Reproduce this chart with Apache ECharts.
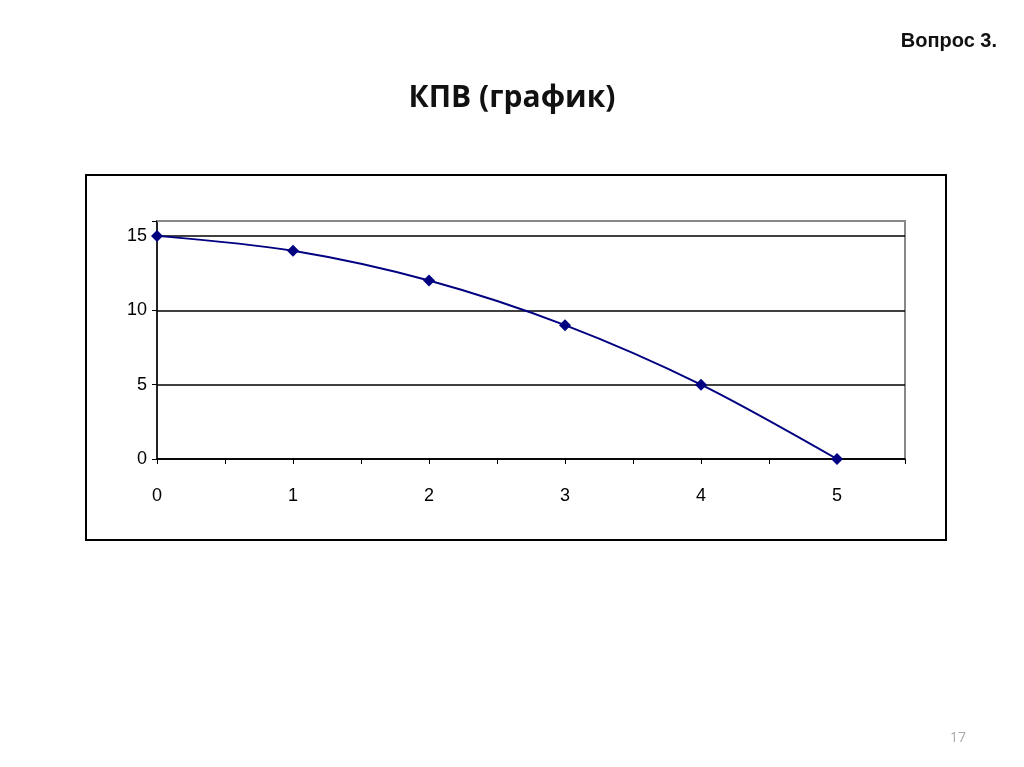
<!DOCTYPE html>
<html lang="en">
<head>
<meta charset="UTF-8">
<script src="https://cdn.jsdelivr.net/npm/echarts@6/dist/echarts.min.js"></script>
<style>
  html, body { margin: 0; padding: 0; background: #fff; }
  #main { width: 1024px; height: 767px; }
</style>
</head>
<body>
<div id="main"></div>
<script>
var xValues = [0, 1, 2, 3, 4, 5];
var yValues = [15, 14, 12, 9, 5, 0];
var titleText = 'КПВ (график)';
var cornerText = 'Вопрос 3.';
var pageNumber = '17';

var chart = echarts.init(document.getElementById('main'));
var option = {
    animation: false,
    title: [
        { text: titleText, left: 'center', top: 78, textStyle: { fontFamily: 'Open Sans', fontSize: 30, fontWeight: 'bold', color: '#111' } },
        { text: cornerText, right: 22, top: 26, textStyle: { fontFamily: 'Liberation Sans', fontSize: 20, fontWeight: 'bold', color: '#111' } },
        { text: pageNumber, left: 945, top: 726, textStyle: { fontFamily: 'Open Sans', fontSize: 14, fontWeight: 'normal', color: '#aaa' } }
    ],
    graphic: [
        { type: 'rect', shape: { x: 86, y: 175, width: 860, height: 365 }, style: { fill: 'none', stroke: '#000', lineWidth: 2 }, z: -1 },
        { type: 'line', shape: { x1: 157, y1: 221, x2: 905, y2: 221 }, style: { stroke: '#888', lineWidth: 2 }, z: 10 }
    ],
    grid: { left: 157, top: 221, width: 748, height: 238, show: true, borderColor: '#888', borderWidth: 2, backgroundColor: '#fff' },
    xAxis: {
        type: 'value', min: 0, max: 5.5, interval: 0.5,
        axisLine: { lineStyle: { color: '#000', width: 1.5 } },
        axisTick: { show: true, length: 5, lineStyle: { color: '#000' } },
        axisLabel: { margin: 28, fontFamily: 'Arial', fontSize: 18, color: '#000',
            formatter: function (v) { return Number.isInteger(v) ? String(v) : ''; } },
        splitLine: { show: false }
    },
    yAxis: {
        type: 'value', min: 0, max: 16, interval: 5,
        axisLine: { show: true, lineStyle: { color: '#000', width: 1.5 } },
        axisTick: { show: true, length: 5, lineStyle: { color: '#000' } },
        axisLabel: { margin: 10, fontFamily: 'Arial', fontSize: 18, color: '#000',
            formatter: function (v) { return v % 5 === 0 ? String(v) : ''; } },
        splitLine: { show: true, lineStyle: { color: '#000', width: 1.5 } }
    },
    series: [{
        type: 'line', smooth: 0.3,
        data: xValues.map(function (x, i) { return [x, yValues[i]]; }),
        symbol: 'diamond', symbolSize: 12,
        lineStyle: { color: '#000080', width: 2 },
        itemStyle: { color: '#000080' }
    }]
};
chart.setOption(option);
</script>
</body>
</html>
